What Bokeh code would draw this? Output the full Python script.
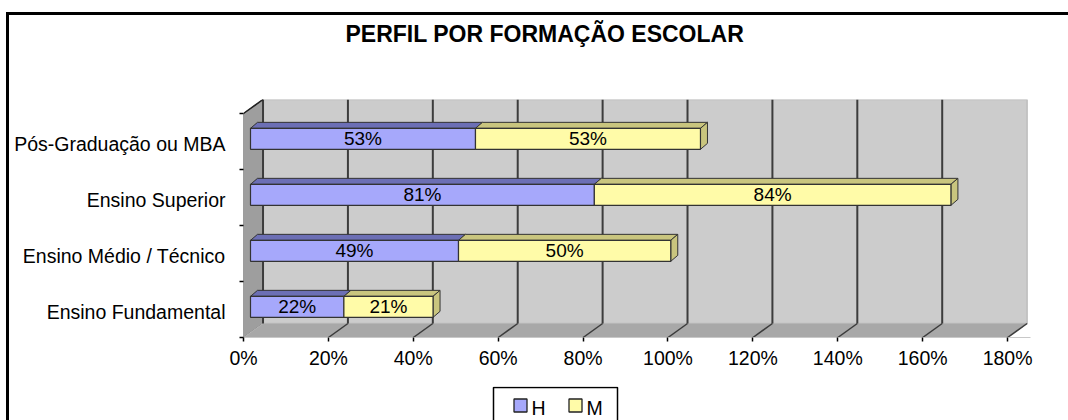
from bokeh.plotting import figure
from bokeh.layouts import column
from bokeh.models import Range1d, FixedTicker, PrintfTickFormatter, ColumnDataSource, Title
from bokeh.core.properties import value
from bokeh.embed import file_html
from bokeh.resources import INLINE

# ---------------- data ----------------
categories = ["Ensino Fundamental", "Ensino Médio / Técnico", "Ensino Superior", "Pós-Graduação ou MBA"]
h_values = [22, 49, 81, 53]
m_values = [21, 50, 84, 53]
series_names = ["H", "M"]
x_ticks = [0, 20, 40, 60, 80, 100, 120, 140, 160, 180]
title_text = "PERFIL POR FORMAÇÃO ESCOLAR"

# ---------------- style ----------------
FONT = "Liberation Sans"
H_FRONT, H_TOP = "#A6A8FB", "#6C6FB5"
M_FRONT, M_TOP = "#FFFBA8", "#C9C57E"
BAR_LINE = "#333333"
BACK_WALL, SIDE_WALL, FLOOR = "#CCCCCC", "#9E9E9E", "#A8A8A8"
GRID = "#3C3C3C"

# 3-D geometry in data units
DX, DY = 4.6, 0.25          # wall depth
OX = 1.65                   # bar front plane offset
TX, TY = 1.65, 0.107        # bar depth
BAR_LO, BAR_HI = 0.36, 0.735
LABEL_POS = 0.45

W = 1059
BL, BR = 234, 38            # left / right borders (shared by both canvases)
xmax = x_ticks[-1]
ytop = len(categories)

p = figure(width=W, height=371, output_backend="svg", toolbar_location=None,
           x_range=Range1d(0, 185.4), y_range=Range1d(0, 4.25),
           min_border_left=BL, min_border_right=BR, min_border_top=84, min_border_bottom=49)
p.outline_line_color = None
p.xgrid.visible = False
p.ygrid.visible = False
p.background_fill_color = "white"
p.title.text = ""

# title (spacer first = closest to the frame, then the title itself)
p.add_layout(Title(text=" ", text_font_size="10px", standoff=40, text_color="white"), "above")
p.add_layout(Title(text=title_text, align="left", offset=102, text_font=FONT, text_font_size="23px",
                   text_font_style="bold", text_color="black", standoff=0), "above")

# walls
p.patch([0, DX, DX, 0], [0, DY, ytop + DY, ytop], fill_color=SIDE_WALL, line_color="#555555", line_width=1)
p.patch([DX, xmax + DX, xmax + DX, DX], [DY, DY, ytop + DY, ytop + DY],
        fill_color=BACK_WALL, line_color="#BDBDBD", line_width=1.5)
p.patch([0, xmax, xmax + DX, DX], [0, 0, DY, DY], fill_color=FLOOR, line_color="#B5B5B5", line_width=1)

# gridlines (back wall + floor)
p.multi_line([[t + DX, t + DX] for t in x_ticks[:-1]], [[DY, ytop + DY] for t in x_ticks[:-1]],
             line_color=GRID, line_width=2)
p.multi_line([[t, t + DX] for t in x_ticks[1:]], [[0, DY] for t in x_ticks[1:]],
             line_color=GRID, line_width=1.5)
p.line([0, DX], [ytop, ytop + DY], line_color="#222222", line_width=1.5)

# bars
n = len(categories)
h_left = [OX] * n
h_right = [OX + h for h in h_values]
m_right = [OX + h + m for h, m in zip(h_values, m_values)]
lo = [i + BAR_LO for i in range(n)]
hi = [i + BAR_HI for i in range(n)]

def top_face(x0, x1, y):
    return [x0, x1, x1 + TX, x0 + TX], [y, y, y + TY, y + TY]

h_top_xs, h_top_ys, m_top_xs, m_top_ys, side_xs, side_ys = [], [], [], [], [], []
for i in range(n):
    xs, ys = top_face(h_left[i], h_right[i], hi[i]); h_top_xs.append(xs); h_top_ys.append(ys)
    xs, ys = top_face(h_right[i], m_right[i], hi[i]); m_top_xs.append(xs); m_top_ys.append(ys)
    side_xs.append([m_right[i], m_right[i] + TX, m_right[i] + TX, m_right[i]])
    side_ys.append([lo[i], lo[i] + TY, hi[i] + TY, hi[i]])

p.patches(h_top_xs, h_top_ys, fill_color=H_TOP, line_color=BAR_LINE, line_width=1)
p.patches(m_top_xs, m_top_ys, fill_color=M_TOP, line_color=BAR_LINE, line_width=1)
p.patches(side_xs, side_ys, fill_color=M_TOP, line_color=BAR_LINE, line_width=1)
p.quad(left=h_left, right=h_right, bottom=lo, top=hi, fill_color=H_FRONT, line_color=BAR_LINE, line_width=1.2)
p.quad(left=h_right, right=m_right, bottom=lo, top=hi, fill_color=M_FRONT, line_color=BAR_LINE, line_width=1.2)

# value labels
lab = ColumnDataSource(dict(
    x=[OX + h / 2 for h in h_values] + [OX + h + m / 2 for h, m in zip(h_values, m_values)],
    y=[i + (BAR_LO + BAR_HI) / 2 for i in range(n)] * 2,
    t=[f"{v}%" for v in h_values] + [f"{v}%" for v in m_values]))
p.text(x="x", y="y", text="t", source=lab, text_align="center", text_baseline="middle",
       text_font=value(FONT), text_font_size="19px", text_color="black")

# x axis
p.xaxis.ticker = FixedTicker(ticks=x_ticks)
p.xaxis.formatter = PrintfTickFormatter(format="%d%%")
p.xaxis.major_tick_out = 4
p.xaxis.major_tick_in = 0
p.xaxis.minor_tick_out = 0
p.xaxis.minor_tick_in = 0
p.xaxis.major_tick_line_color = "black"
p.xaxis.major_tick_line_width = 1.5
p.xaxis.axis_line_color = "#C8C8C8"
p.xaxis.major_label_standoff = 5
p.xaxis.major_label_text_font = FONT
p.xaxis.major_label_text_font_size = "19.5px"
p.xaxis.major_label_text_color = "black"

# y axis
label_pos = [i + LABEL_POS for i in range(n)]
p.yaxis.ticker = FixedTicker(ticks=label_pos, minor_ticks=list(range(n + 1)))
p.yaxis.major_label_overrides = {pos: c for pos, c in zip(label_pos, categories)}
p.yaxis.major_tick_out = 0
p.yaxis.major_tick_in = 0
p.yaxis.minor_tick_out = 4
p.yaxis.minor_tick_in = 0
p.yaxis.minor_tick_line_color = "black"
p.yaxis.minor_tick_line_width = 1.5
p.yaxis.axis_line_color = None
p.yaxis.major_label_standoff = 14
p.yaxis.major_label_text_font = FONT
p.yaxis.major_label_text_font_size = "19.5px"
p.yaxis.major_label_text_color = "black"

# ---------------- legend strip (canvas-pixel units, frame aligned with the chart) ----------------
LH = 34
LEG_LEFT, LEG_RIGHT = 484, 608
SW_X = [511, 566]           # swatch centres
TXT_X = [522, 577]          # label left edges
p2 = figure(width=W, height=LH, output_backend="svg", toolbar_location=None,
            x_range=Range1d(BL, W - BR), y_range=Range1d(0, LH),
            x_axis_type=None, y_axis_type=None,
            min_border_left=BL, min_border_right=BR, min_border_top=0, min_border_bottom=0)
p2.outline_line_color = None
p2.title.text = ""
p2.quad(left=[LEG_LEFT], right=[LEG_RIGHT], top=[LH - 1], bottom=[-10],
        fill_color="white", line_color="black", line_width=1.5)
p2.scatter(x=SW_X, y=[15, 15], marker="square", size=13,
           fill_color=[H_FRONT, M_FRONT], line_color="#222222", line_width=1.3)
p2.text(x=TXT_X, y=[13, 13], text=series_names, text_align="left", text_baseline="middle",
        text_font=value(FONT), text_font_size="19.5px", text_color="black")

layout = column(p, p2, spacing=0,
                styles={"border-top": "3px solid black", "border-left": "3px solid black",
                        "margin-top": "12px", "margin-left": "6px"})

open("out.html", "w").write(file_html(layout, INLINE))
